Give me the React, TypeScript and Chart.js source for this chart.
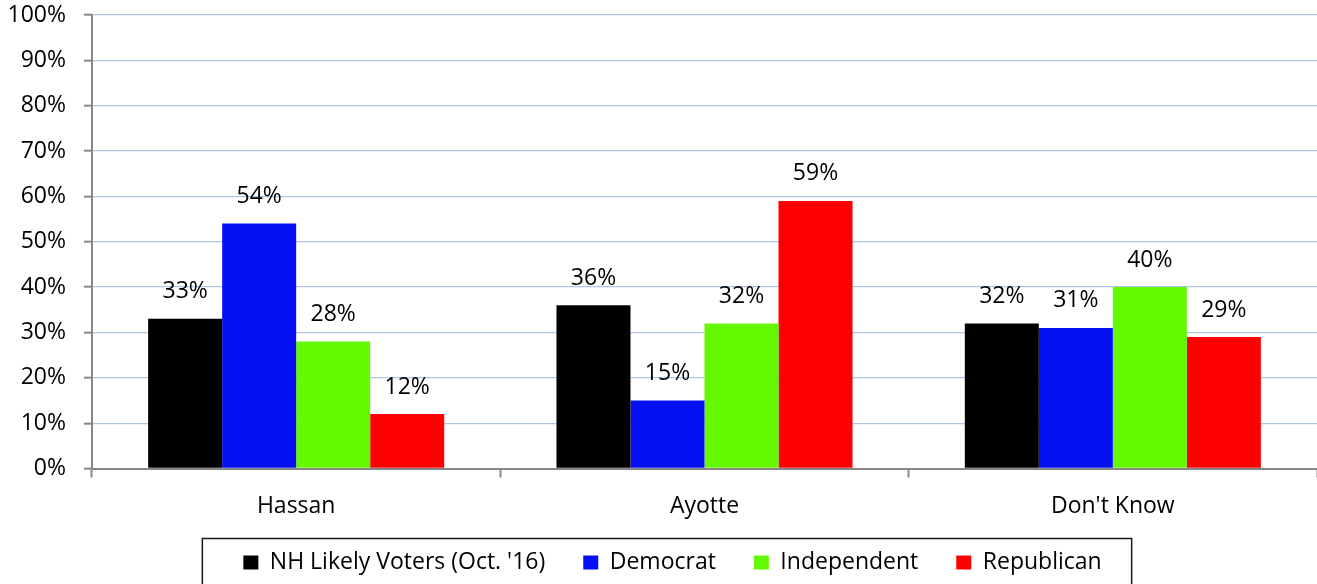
import React, { useEffect, useRef } from "react";
import { Chart, registerables } from "chart.js";

Chart.register(...registerables);

const categories = ["Hassan", "Ayotte", "Don't Know"];
const seriesNames = ["NH Likely Voters (Oct. '16)", "Democrat", "Independent", "Republican"];
const likelyVoters = [33, 36, 32];
const democrat = [54, 15, 31];
const independent = [28, 32, 40];
const republican = [12, 59, 29];
const seriesColors = ["#000000", "#0511f3", "#64f900", "#ff0000"];
const yTicks = [0, 10, 20, 30, 40, 50, 60, 70, 80, 90, 100];

const FONT = "'Open Sans', Lato, sans-serif";
const LEGEND_PAD = 38;
const LEGEND_FONT = 23;

const valueLabels = {
  id: "valueLabels",
  afterDatasetsDraw(chart: any) {
    const ctx = chart.ctx;
    ctx.save();
    ctx.font = `23px ${FONT}`;
    ctx.fillStyle = "#000";
    ctx.textAlign = "center";
    ctx.textBaseline = "middle";
    chart.data.datasets.forEach((ds: any, i: number) => {
      const meta = chart.getDatasetMeta(i);
      meta.data.forEach((bar: any, j: number) => {
        ctx.fillText(ds.data[j] + "%", bar.x, bar.y - 27);
      });
    });
    ctx.restore();
  },
};

const legendBorder = {
  id: "legendBorder",
  afterLayout(chart: any) {
    const lg = chart.legend;
    if (!lg) return;
    lg.left += 14;
    lg.right += 14;
  },
  afterDraw(chart: any) {
    const lg = chart.legend;
    if (!lg || !lg.lineWidths) return;
    const lw = lg.lineWidths[0];
    const x0 = (lg.left + LEGEND_PAD + lg.right - lw) / 2;
    const left = x0 - 41;
    const right = x0 + lw - LEGEND_PAD + 30;
    const cy = lg.top + LEGEND_PAD + LEGEND_FONT / 2;
    const top = cy - 24;
    const ctx = chart.ctx;
    ctx.save();
    ctx.strokeStyle = "#1a1a1a";
    ctx.lineWidth = 1.5;
    ctx.strokeRect(left, top, right - left, chart.height - top + 20);
    ctx.restore();
  },
};

export default function App() {
  const ref = useRef<HTMLCanvasElement>(null);
  useEffect(() => {
    if (!ref.current) return;
    const data = [likelyVoters, democrat, independent, republican];
    const chart = new Chart(ref.current, {
      type: "bar",
      data: {
        labels: categories,
        datasets: seriesNames.map((name, i) => ({
          label: name,
          data: data[i],
          backgroundColor: seriesColors[i],
          borderWidth: 0,
          barPercentage: 1,
          categoryPercentage: 0.725,
        })),
      },
      options: {
        responsive: false,
        animation: false,
        layout: { padding: { top: 15, right: 0, left: 0, bottom: 0 } },
        plugins: {
          tooltip: { enabled: false },
          legend: {
            position: "bottom",
            labels: {
              font: { family: FONT, size: LEGEND_FONT },
              color: "#000",
              boxWidth: 15,
              boxHeight: 14,
              padding: LEGEND_PAD,
            },
          },
        },
        scales: {
          x: {
            grid: {
              drawOnChartArea: false,
              drawTicks: true,
              tickLength: 9,
              tickColor: "#868686",
              tickWidth: 2,
              offset: true,
            },
            border: { color: "#868686", width: 2 },
            ticks: { font: { family: FONT, size: 23 }, color: "#000", padding: 15 },
            afterFit: (s: any) => {
              s.height = 44.5;
              s.paddingLeft = 0;
              s.paddingRight = 0;
              s._computeLabelArea = () => undefined;
            },
          },
          y: {
            min: 0,
            max: 100,
            afterBuildTicks: (s: any) => {
              s.ticks = yTicks.map((v) => ({ value: v }));
            },
            grid: {
              color: "#b1c5ea",
              lineWidth: 1.3,
              tickLength: 8,
              tickColor: "#868686",
              tickWidth: 2,
            },
            border: { color: "#868686", width: 2 },
            ticks: {
              font: { family: FONT, size: 23 },
              color: "#000",
              padding: 18,
              callback: (v: any) => v + "%",
            },
            afterFit: (s: any) => {
              s.width = 92;
              s.paddingTop = 0;
              s.paddingBottom = 0;
            },
          },
        },
      },
      plugins: [valueLabels, legendBorder],
    });
    return () => chart.destroy();
  }, []);
  return (
    <div style={{ position: "absolute", left: 0, top: 0, width: 1317, height: 584, background: "#fff" }}>
      <canvas ref={ref} width={1317} height={584} />
    </div>
  );
}
